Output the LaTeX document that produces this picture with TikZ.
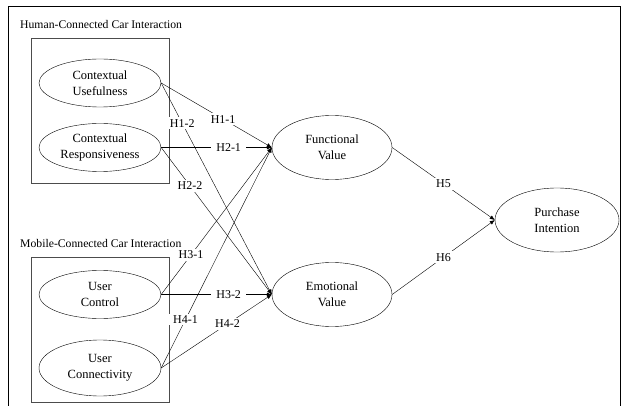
\documentclass[tikz,border=0pt]{standalone}
\usepackage{fontspec}
\setmainfont{Liberation Serif}
\usetikzlibrary{arrows.meta,shapes.geometric,positioning}

\begin{document}
\begin{tikzpicture}[x=1pt,y=-1pt]
\tikzset{
  construct/.style={ellipse,draw,thin,minimum width=122pt,minimum height=48pt,inner sep=0pt,align=center,font=\fontsize{12.5}{15.5}\selectfont},
  bigconstruct/.style={construct,minimum width=120pt,minimum height=64pt},
  groupbox/.style={draw=black!70,line width=1pt},
  grouptitle/.style={anchor=west,inner sep=0pt,font=\fontsize{11.7}{14}\selectfont},
  hyp/.style={fill=white,inner xsep=5pt,inner ysep=2pt,font=\fontsize{12}{14}\selectfont},
  directed/.style={-{Latex[length=5pt,width=4pt]},thin}
}
\useasboundingbox (0,0) rectangle (621,406);
% frame
\draw[line width=1pt] (8,406) -- (8,7) -- (620,7) -- (620,406);
% groups
\node[grouptitle] (t_H) at (20,25) {Human-Connected Car Interaction};
\draw[groupbox] (31,39) rectangle (169,184);
\node[grouptitle] (t_M) at (20,243) {Mobile-Connected Car Interaction};
\draw[groupbox] (31,257) rectangle (169,402);
% constructs
\node[construct] (n_CU) at (100,83) {Contextual\\Usefulness};
\node[construct] (n_CR) at (100,147.5) {Contextual\\Responsiveness};
\node[construct] (n_UC) at (100,294.5) {User\\Control};
\node[construct,minimum height=56pt] (n_UN) at (100,368) {User\\Connectivity};
\node[bigconstruct] (n_FV) at (332,147.5) {Functional\\Value};
\node[bigconstruct] (n_EV) at (332,294.5) {Emotional\\Value};
\node[bigconstruct,minimum width=124pt] (n_PI) at (557,220) {Purchase\\Intention};
% paths
\draw[directed] (n_CU.east) -- node[hyp,pos=0.56] (h_11) {H1-1} (n_FV.west);
\draw[directed] (n_CU.east) -- node[hyp,pos=0.19] (h_12) {H1-2} (n_EV.west);
\draw[directed] (n_CR.east) -- node[hyp,pos=0.61] (h_21) {H2-1} (n_FV.west);
\draw[directed] (n_CR.east) -- node[hyp,pos=0.26] (h_22) {H2-2} (n_EV.west);
\draw[directed] (n_UC.east) -- node[hyp,pos=0.27] (h_31) {H3-1} (n_FV.west);
\draw[directed] (n_UC.east) -- node[hyp,pos=0.61] (h_32) {H3-2} (n_EV.west);
\draw[directed] (n_UN.east) -- node[hyp,pos=0.22] (h_41) {H4-1} (n_FV.west);
\draw[directed] (n_UN.east) -- node[hyp,pos=0.6] (h_42) {H4-2} (n_EV.west);
\draw[directed] (n_FV.east) -- node[hyp,pos=0.5] (h_5) {H5} (n_PI.west);
\draw[directed] (n_EV.east) -- node[hyp,pos=0.5] (h_6) {H6} (n_PI.west);
\end{tikzpicture}
\end{document}
